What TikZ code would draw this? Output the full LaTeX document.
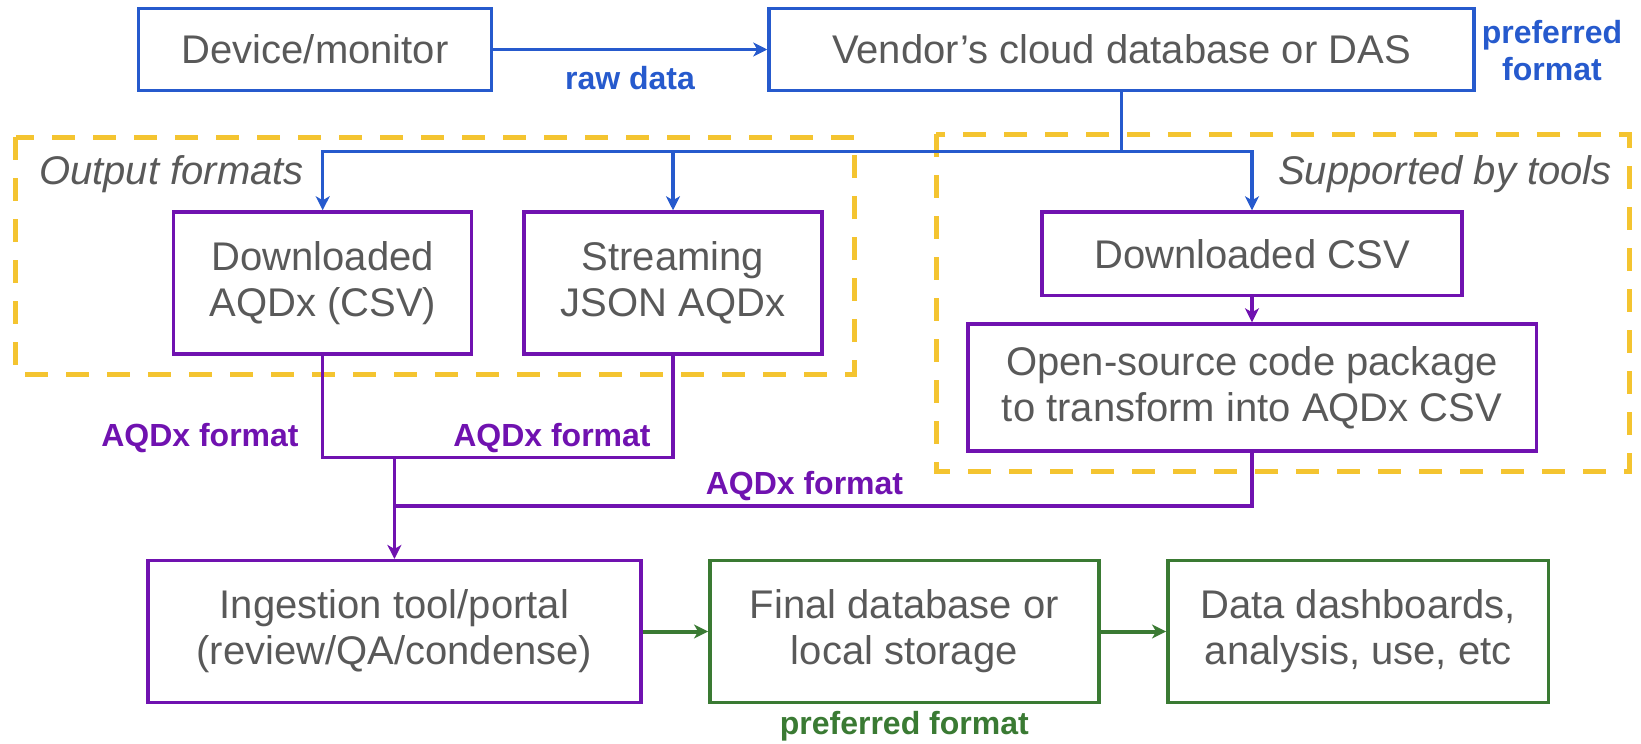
\documentclass[tikz,border=0pt]{standalone}
\usepackage{fontspec}
\setmainfont{Liberation Sans}
\usetikzlibrary{arrows.meta}
\definecolor{cblue}{HTML}{265ACD}
\definecolor{cpurple}{HTML}{7012B0}
\definecolor{cgreen}{HTML}{3A7A33}
\definecolor{cyellow}{HTML}{F4C430}
\definecolor{cgray}{HTML}{595959}
\tikzset{
  box/.style={draw, line width=3.5pt, inner sep=0pt, align=center, text=cgray,
    font=\fontsize{40}{46}\selectfont},
  bbox/.style={box, draw=cblue},
  pbox/.style={box, draw=cpurple},
  gbox/.style={box, draw=cgreen},
  grp/.style={draw=cyellow, line width=5pt, dash pattern=on 23pt off 18pt},
  lbl/.style={inner sep=0pt, font=\fontsize{32}{36.8}\selectfont\bfseries},
  ital/.style={inner sep=0pt, text=cgray, font=\fontsize{40}{46}\selectfont\itshape},
  tip/.style={-{Stealth[length=14pt,width=14pt,inset=4pt]}},
  bline/.style={draw=cblue, line width=3.2pt},
  pline/.style={draw=cpurple, line width=3.5pt},
  gline/.style={draw=cgreen, line width=4pt},
}
\begin{document}
\begin{tikzpicture}[x=1pt,y=-1pt]
\useasboundingbox (0,0) rectangle (1641,744);
% group frames
\draw[grp] (15.7,137.3) rectangle (854,374);
\draw[grp] (936,134.3) rectangle (1629,471);
\node[ital, anchor=base west] (tout) at (39,184) {Output formats};
\node[ital, anchor=base east] (tsup) at (1612,184) {Supported by tools};
% boxes
\node[bbox, minimum width=353pt, minimum height=82.4pt] (dev) at (315.1,49.5) {Device/monitor};
\node[bbox, minimum width=705pt, minimum height=82.4pt] (vend) at (1121.5,49.5) {Vendor’s cloud database or DAS};
\node[pbox, minimum width=298pt, minimum height=142pt] (dla) at (322.7,283) {Downloaded\\AQDx (CSV)};
\node[pbox, minimum width=298pt, minimum height=142pt] (stream) at (673,283) {Streaming\\JSON AQDx};
\node[pbox, minimum width=420pt, minimum height=83.3pt] (dlcsv) at (1252,253.7) {Downloaded CSV};
\node[pbox, minimum width=568.5pt, minimum height=126.7pt] (osc) at (1252,387.4) {Open-source code package\\to transform into AQDx CSV};
\node[pbox, minimum width=492.7pt, minimum height=141.6pt] (ing) at (394.4,631.5) {Ingestion tool/portal\\(review/QA/condense)};
\node[gbox, minimum width=389pt, minimum height=141.6pt] (fin) at (904.3,631.5) {Final database or\\local storage};
\node[gbox, minimum width=380.8pt, minimum height=141.6pt] (dash) at (1358.2,631.5) {Data dashboards,\\analysis, use, etc};
% labels
\node[lbl, text=cblue, anchor=base] (lraw) at (630,89) {raw data};
\node[lbl, text=cblue, align=center, anchor=base] (lpref) at (1552,80) {preferred\\format};
\node[lbl, text=cpurple, anchor=base] (la1) at (200,446) {AQDx format};
\node[lbl, text=cpurple, anchor=base] (la2) at (552,446) {AQDx format};
\node[lbl, text=cpurple, anchor=base] (la3) at (804.5,494) {AQDx format};
\node[lbl, text=cgreen] (lpref2) at (904.3,726) {preferred format};
% connectors
\coordinate (bus) at (1121.5,151.7);
\coordinate (mergeA) at (394.4,457.7);
\coordinate (mergeB) at (394.4,506);
\draw[bline, tip] (dev.east) -- (vend.west);
\draw[bline] (vend.south) -- (bus);
\draw[bline, tip] (bus) -| (dla.north);
\draw[bline, tip] (bus) -| (stream.north);
\draw[bline, tip] (bus) -| (dlcsv.north);
\draw[pline, tip] (dlcsv.south) -- (osc.north);
\draw[pline] (dla.south) |- (mergeA) -| (stream.south);
\draw[pline] (osc.south) |- (mergeB);
\draw[pline, tip] (mergeA) -- (ing.north);
\draw[gline, tip] (ing.east) -- (fin.west);
\draw[gline, tip] (fin.east) -- (dash.west);
\end{tikzpicture}
\end{document}
